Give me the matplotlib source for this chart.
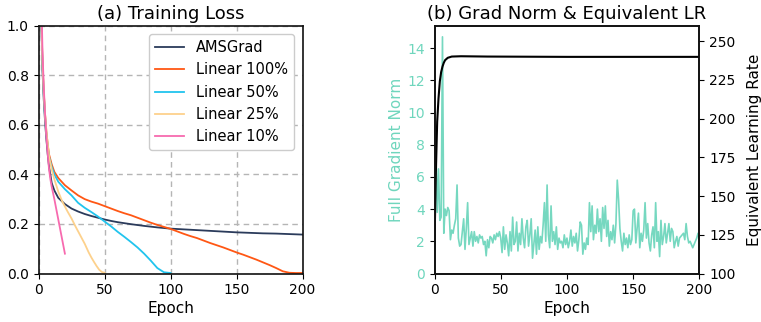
import matplotlib
matplotlib.use("Agg")
import matplotlib.pyplot as plt
import numpy as np

# ---------------- data ----------------
ams_epochs = [0, 1, 2, 3, 4, 5, 6, 7, 8, 10, 12, 15, 20, 25, 30, 35, 40, 45, 50, 55, 60,
              70, 80, 90, 100, 110, 120, 130, 140, 150, 160, 170, 180, 190, 200]
ams_loss = [2.3, 1.5, 1.05, 0.82, 0.70, 0.61, 0.54, 0.48, 0.43, 0.365, 0.335, 0.305, 0.28,
            0.262, 0.25, 0.24, 0.232, 0.225, 0.218, 0.212, 0.207, 0.199, 0.192, 0.186,
            0.181, 0.178, 0.175, 0.172, 0.169, 0.166, 0.164, 0.162, 0.161, 0.159, 0.157]

lin100_epochs = [0, 1, 2, 3, 4, 5, 6, 7, 8, 10, 12, 15, 20, 25, 30, 35, 40, 45, 50, 55, 60,
                 65, 70, 75, 80, 85, 90, 95, 100, 105, 110, 115, 120, 125, 130, 135, 140,
                 145, 150, 155, 160, 165, 170, 175, 180, 185, 190, 195, 200]
lin100_loss = [2.3, 1.5, 1.08, 0.85, 0.73, 0.64, 0.57, 0.52, 0.48, 0.44, 0.41, 0.385, 0.356,
               0.335, 0.315, 0.30, 0.29, 0.282, 0.272, 0.262, 0.252, 0.243, 0.235, 0.225,
               0.215, 0.205, 0.196, 0.188, 0.18, 0.17, 0.16, 0.151, 0.143, 0.133, 0.123,
               0.114, 0.105, 0.095, 0.085, 0.076, 0.066, 0.056, 0.045, 0.034, 0.022, 0.009,
               0.003, 0.002, 0.002]

lin50_epochs = [0, 1, 2, 3, 4, 5, 6, 7, 8, 10, 12, 15, 20, 25, 30, 35, 40, 45, 50, 55, 60,
                65, 70, 75, 80, 85, 90, 95, 100]
lin50_loss = [2.3, 1.5, 1.07, 0.84, 0.72, 0.63, 0.56, 0.51, 0.47, 0.43, 0.40, 0.37, 0.34,
              0.315, 0.285, 0.265, 0.248, 0.23, 0.21, 0.19, 0.168, 0.148, 0.127, 0.105,
              0.08, 0.052, 0.022, 0.005, 0.002]

lin25_epochs = [0, 1, 2, 3, 4, 5, 6, 7, 8, 10, 12, 15, 18, 20, 22, 25, 28, 30, 32, 35, 38,
                40, 42, 44, 46, 48, 50]
lin25_loss = [2.3, 1.5, 1.08, 0.85, 0.73, 0.64, 0.57, 0.52, 0.47, 0.42, 0.38, 0.33, 0.29,
              0.27, 0.25, 0.222, 0.19, 0.17, 0.15, 0.12, 0.085, 0.065, 0.047, 0.03, 0.015,
              0.006, 0.003]

lin10_epochs = [0, 1, 2, 3, 4, 5, 6, 7, 8, 9, 10, 12, 14, 16, 18, 20]
lin10_loss = [2.3, 1.6, 1.15, 0.9, 0.75, 0.64, 0.55, 0.48, 0.42, 0.38, 0.35, 0.30, 0.245,
              0.19, 0.135, 0.08]

grad_norm = [
    7.7, 7.7, 3.8, 6.5, 3.3, 3.5, 14.7, 2.5, 4.0, 3.6,
    4.1, 3.9, 2.1, 2.7, 2.5, 3.0, 3.4, 5.5, 2.2, 1.7,
    1.8, 2.6, 3.4, 1.5, 2.8, 4.4, 1.8, 2.2, 2.6, 1.7,
    2.6, 2.0, 2.3, 1.9, 2.4, 2.2, 2.3, 1.8, 2.0, 1.1,
    2.1, 1.6, 2.3, 2.2, 1.9, 2.4, 2.1, 2.5, 2.3, 2.6,
    2.2, 1.3, 2.9, 1.5, 2.4, 1.9, 1.1, 2.6, 1.4, 3.5,
    1.8, 2.0, 3.2, 1.4, 2.5, 1.8, 3.4, 2.2, 1.6, 2.9,
    3.3, 1.7, 2.4, 3.4, 0.95, 1.8, 2.7, 1.2, 2.9, 1.5,
    2.3, 1.9, 3.0, 4.4, 2.0, 5.5, 2.4, 1.6, 4.2, 2.0,
    2.6, 1.8, 2.9, 1.5, 2.2, 1.9, 2.0, 1.6, 2.4, 1.8,
    2.2, 1.6, 2.0, 2.7, 1.7, 2.3, 1.9, 2.5, 1.4, 2.1,
    3.2, 3.0, 1.2, 1.9, 1.5, 2.2, 1.8, 4.4, 2.6, 4.2,
    2.1, 3.0, 2.5, 4.0, 2.6, 3.4, 2.0, 4.1, 2.8, 4.2,
    2.3, 3.3, 1.7, 2.6, 2.1, 3.0, 1.9, 3.1, 5.8, 4.6,
    2.8, 2.0, 1.4, 2.5, 1.8, 2.2, 1.6, 2.4, 1.8, 2.1,
    3.9, 4.0, 1.9, 2.8, 3.75, 1.6, 2.5, 2.0, 2.7, 4.4,
    2.2, 3.1, 1.9, 1.4, 2.4, 2.9, 1.6, 4.4, 2.0, 2.6,
    1.05, 3.3, 1.8, 2.3, 3.1, 1.9, 2.5, 3.1, 2.0, 2.8,
    2.6, 1.6, 2.0, 2.3, 1.7, 2.2, 2.3, 2.4, 2.5, 2.1,
    3.1, 2.3, 1.9, 2.0, 1.8, 1.6, 1.8, 2.0, 2.2, 2.5, 2.1]
grad_epochs = list(range(len(grad_norm)))

lr_epochs = [0, 1, 2, 3, 4, 5, 6, 7, 8, 10, 13, 20, 40, 100, 200]
lr_values = [120, 165, 198, 213, 224, 230, 233.5, 236, 237.7, 239.2, 240, 240.2, 240,
             239.8, 239.8]

# ---------------- style ----------------
c_ams = "#2b3b5b"
c_100 = "#ff5714"
c_50 = "#21c4ee"
c_25 = "#fdd18c"
c_10 = "#f76aaf"
c_green = "#6fd6bd"

plt.rcParams['font.family'] = ['DejaVu Sans']

fig = plt.figure(figsize=(7.61, 3.22), dpi=100)
ax1 = fig.add_axes([0.0506, 0.1506, 0.347, 0.770])
ax2 = fig.add_axes([0.571, 0.1506, 0.348, 0.770])

# ---- (a) ----
lw = 1.3
ax1.plot(ams_epochs, ams_loss, color=c_ams, lw=lw, label="AMSGrad")
ax1.plot(lin100_epochs, lin100_loss, color=c_100, lw=lw, label="Linear 100%")
ax1.plot(lin50_epochs, lin50_loss, color=c_50, lw=lw, label="Linear 50%")
ax1.plot(lin25_epochs, lin25_loss, color=c_25, lw=lw, label="Linear 25%")
ax1.plot(lin10_epochs, lin10_loss, color=c_10, lw=lw, label="Linear 10%")
ax1.set_xlim(0, 200)
ax1.set_ylim(0, 1.0)
ax1.set_xticks([0, 50, 100, 150, 200])
ax1.set_yticks([0.0, 0.2, 0.4, 0.6, 0.8, 1.0])
ax1.grid(True, linestyle=(0, (4, 3)), color="#b5b5b5", lw=1.0)
ax1.set_axisbelow(True)
ax1.set_xlabel("Epoch", fontsize=11, labelpad=3)
ax1.set_title("(a) Training Loss", fontsize=13, pad=5)
ax1.tick_params(labelsize=10)
leg = ax1.legend(loc="upper right", fontsize=10.5, framealpha=1.0, edgecolor="#cccccc",
                 borderaxespad=0.6)

# ---- (b) ----
ax2.plot(grad_epochs, grad_norm, color=c_green, lw=1.2, alpha=0.95)
ax2.set_xlim(0, 200)
ax2.set_ylim(0, 15.4)
ax2.set_yticks([0, 2, 4, 6, 8, 10, 12, 14])
ax2.set_xticks([0, 50, 100, 150, 200])
ax2.set_ylabel("Full Gradient Norm", color=c_green, fontsize=11, labelpad=2)
ax2.tick_params(axis='y', labelcolor=c_green, labelsize=10)
ax2.tick_params(axis='x', labelsize=10)
ax2.set_xlabel("Epoch", fontsize=11, labelpad=3)
ax2.set_title("(b) Grad Norm & Equivalent LR", fontsize=13, pad=5)

ax3 = ax2.twinx()
ax3.plot(lr_epochs, lr_values, color="black", lw=1.5)
ax3.set_ylim(100, 260)
ax3.set_yticks([100, 125, 150, 175, 200, 225, 250])
ax3.set_ylabel("Equivalent Learning Rate", fontsize=11, labelpad=8)
ax3.tick_params(labelsize=10)

for ax in (ax1, ax2, ax3):
    for s in ax.spines.values():
        s.set_color("#111111")
        s.set_linewidth(1.2)

fig.savefig("out.png", dpi=100)
